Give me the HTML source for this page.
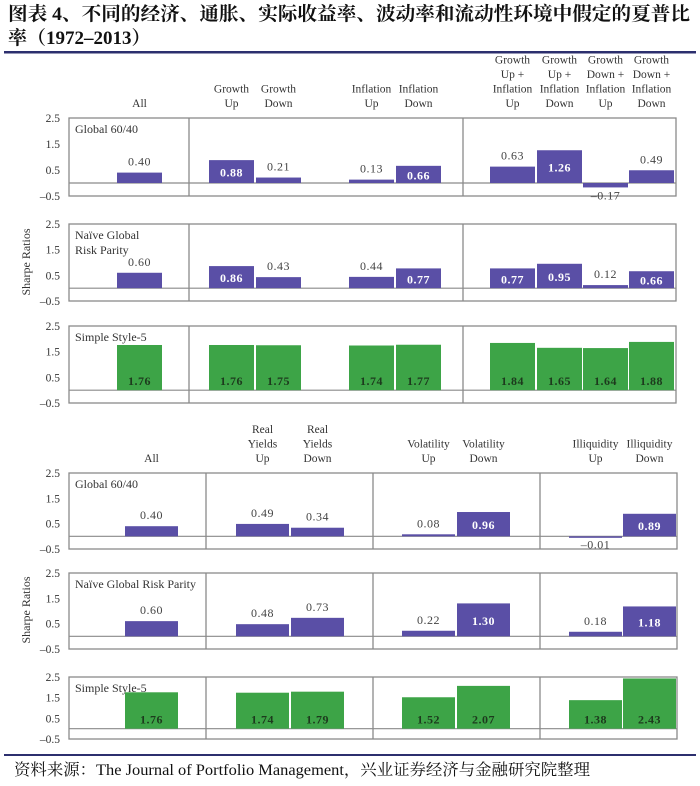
<!DOCTYPE html>
<html><head><meta charset="utf-8">
<style>
html,body{margin:0;padding:0;background:#fff;}
body{width:700px;height:786px;overflow:hidden;position:relative;}
svg{position:absolute;left:0;top:0;}
text{font-family:"Liberation Serif","Noto Serif CJK SC",serif;}
</style></head>
<body>
<svg id="chart" width="700" height="786" xmlns="http://www.w3.org/2000/svg">
  <text x="8" y="20" font-size="19" font-weight="bold" fill="#111" textLength="682" lengthAdjust="spacingAndGlyphs">图表 4、不同的经济、通胀、实际收益率、波动率和流动性环境中假定的夏普比</text>
  <text x="8" y="44" font-size="19" font-weight="bold" fill="#111">率（1972–2013）</text>
  <rect x="4" y="51" width="692" height="2.5" fill="#2c2f6e"/>
  <rect x="4" y="754" width="692" height="2" fill="#2c2f6e"/>
  <text x="14" y="775" font-size="16" fill="#111" textLength="576" lengthAdjust="spacingAndGlyphs">资料来源：The Journal of Portfolio Management，兴业证券经济与金融研究院整理</text>
  <g id="g"></g>
</svg>
<script>
// ---- Top chart data ----
const topCategories = ["All","Growth Up","Growth Down","Inflation Up","Inflation Down","Growth Up + Inflation Up","Growth Up + Inflation Down","Growth Down + Inflation Up","Growth Down + Inflation Down"];
const topSeries6040 = [0.40,0.88,0.21,0.13,0.66,0.63,1.26,-0.17,0.49];
const topSeriesRP = [0.60,0.86,0.43,0.44,0.77,0.77,0.95,0.12,0.66];
const topSeriesS5 = [1.76,1.76,1.75,1.74,1.77,1.84,1.65,1.64,1.88];
// ---- Bottom chart data ----
const botCategories = ["All","Real Yields Up","Real Yields Down","Volatility Up","Volatility Down","Illiquidity Up","Illiquidity Down"];
const botSeries6040 = [0.40,0.49,0.34,0.08,0.96,-0.01,0.89];
const botSeriesRP = [0.60,0.48,0.73,0.22,1.30,0.18,1.18];
const botSeriesS5 = [1.76,1.74,1.79,1.52,2.07,1.38,2.43];
const yTickLabels = ["2.5","1.5","0.5","\u20130.5"];
const yTickValues = [2.5,1.5,0.5,-0.5];
const panelNames = ["Global 60/40","Naïve Global Risk Parity","Simple Style-5"];

const NS="http://www.w3.org/2000/svg";
const G=document.getElementById('g');
function mk(tag,attrs,parent){const e=document.createElementNS(NS,tag);for(const k in attrs)e.setAttribute(k,attrs[k]);(parent||G).appendChild(e);return e;}
const PURPLE="#5a4fa6", GREEN="#3da447", GRID="#8a8a8a";

const topHeaders=[["All"],["Growth","Up"],["Growth","Down"],["Inflation","Up"],["Inflation","Down"],
 ["Growth","Up +","Inflation","Up"],["Growth","Up +","Inflation","Down"],["Growth","Down +","Inflation","Up"],["Growth","Down +","Inflation","Down"]];
const botHeaders=[["All"],["Real","Yields","Up"],["Real","Yields","Down"],["Volatility","Up"],["Volatility","Down"],["Illiquidity","Up"],["Illiquidity","Down"]];

function drawChart(cfg){
  cfg.barX.forEach((bx,i)=>{
    const lines=cfg.headers[i];const cx=bx+cfg.barW/2;
    lines.forEach((ln,j)=>{
      const t=mk('text',{x:cx,y:cfg.headerBase-(lines.length-1-j)*14.5,'font-size':11.5,'text-anchor':'middle',fill:'#333'});
      
      
      t.textContent=ln;
    });
  });
  cfg.panels.forEach((p,pi)=>{
    const vals=cfg.series[pi];
    const unit=(p.bottom-p.top)/3;
    const y=v=>p.top+(2.5-v)*unit;
    const pg=mk('g',{});
    
    
    mk('rect',{x:cfg.left,y:p.top,width:cfg.right-cfg.left,height:p.bottom-p.top,fill:'none',stroke:GRID,'stroke-width':1.3},pg);
    mk('line',{x1:cfg.left,x2:cfg.right,y1:y(0),y2:y(0),stroke:GRID,'stroke-width':1.2},pg);
    cfg.dividers.forEach(d=>mk('line',{x1:d,x2:d,y1:p.top,y2:p.bottom,stroke:GRID,'stroke-width':1.3},pg));
    yTickValues.forEach((tv,k)=>{
      const t=mk('text',{x:60,y:y(tv)+4,'font-size':11.5,'text-anchor':'end',fill:'#333'},pg);
      
      
      t.textContent=yTickLabels[k];
    });
    p.nameLines.forEach((ln,j)=>{
      const t=mk('text',{x:cfg.left+6,y:p.top+15+j*15,'font-size':12,fill:'#333'},pg);
      
      
      t.textContent=ln;
    });
    const green=pi===2;
    vals.forEach((v,i)=>{
      const bx=cfg.barX[i];
      const y0=y(0), yv=y(v);
      const r=mk('rect',{x:bx,y:Math.min(y0,yv),width:cfg.barW,height:Math.max(Math.abs(yv-y0),1.5),fill:green?GREEN:PURPLE},pg);
      
      
      const lab=mk('text',{x:bx+cfg.barW/2,'font-size':12,'text-anchor':'middle','letter-spacing':'0.5'},pg);
      
      
      lab.textContent=v<0?'\u2013'+Math.abs(v).toFixed(2):v.toFixed(2);
      if(green){lab.setAttribute('y',y0-5);lab.setAttribute('fill','#1d3a1d');lab.setAttribute('font-weight','bold');}
      else if(v<0){lab.setAttribute('y',y(v)+12);lab.setAttribute('fill','#444');}
      else if(v>=cfg.inside){lab.setAttribute('y',(y0+yv)/2+5);lab.setAttribute('fill','#fff');lab.setAttribute('font-weight','bold');}
      else {lab.setAttribute('y',yv-7);lab.setAttribute('fill','#444');}
    });
  });
  const sr=mk('text',{x:0,y:0,'font-size':12,'text-anchor':'middle',fill:'#333',transform:`translate(30,${cfg.srY}) rotate(-90)`});
  
  
  sr.textContent='Sharpe Ratios';
}

drawChart({
  cats:topCategories, headers:topHeaders, headerBase:107,
  left:69,right:676,dividers:[189,463],
  barX:[117,209,256,349,396,490,537,583,629],barW:45,inside:0.65,
  panels:[{top:118,bottom:196,nameLines:["Global 60/40"]},
          {top:224,bottom:301,nameLines:["Naïve Global","Risk Parity"]},
          {top:326,bottom:403,nameLines:["Simple Style-5"]}],
  series:[topSeries6040,topSeriesRP,topSeriesS5], srY:262
});
drawChart({
  cats:botCategories, headers:botHeaders, headerBase:462,
  left:69,right:677,dividers:[206,373,540],
  barX:[125,236,291,402,457,569,623],barW:53,inside:0.8,
  panels:[{top:473,bottom:549,nameLines:["Global 60/40"]},
          {top:573,bottom:649,nameLines:["Naïve Global Risk Parity"]},
          {top:677,bottom:739,nameLines:["Simple Style-5"]}],
  series:[botSeries6040,botSeriesRP,botSeriesS5], srY:610
});
</script>
</body></html>
